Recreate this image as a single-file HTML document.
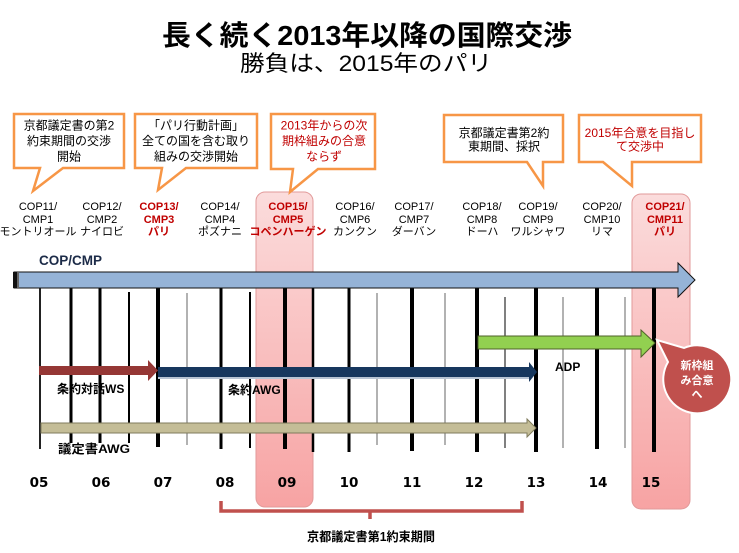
<!DOCTYPE html>
<html><head><meta charset="utf-8"><style>
html,body{margin:0;padding:0;background:#fff;}
svg{display:block;}
text{font-family:"Liberation Sans","Noto Sans CJK JP",sans-serif;}
.cop{font-size:11px;text-anchor:middle;fill:#000;}
.copr{font-size:11px;text-anchor:middle;fill:#c00000;font-weight:bold;}
.cb{font-size:12px;text-anchor:middle;fill:#000;}
.cbr{font-size:12px;text-anchor:middle;fill:#c00000;}
.yr{font-family:"DejaVu Sans","Liberation Sans",sans-serif;font-weight:bold;font-size:13.5px;text-anchor:middle;fill:#000;}
.lb{font-size:12px;font-weight:bold;fill:#000;}
</style></head><body>
<svg width="739" height="553" viewBox="0 0 739 553" xmlns="http://www.w3.org/2000/svg">
<defs>
<linearGradient id="pk" x1="0" y1="0" x2="0" y2="1">
<stop offset="0" stop-color="#fbdcdc"/>
<stop offset="1" stop-color="#f7a3a3"/>
</linearGradient>
</defs>
<rect width="739" height="553" fill="#fff"/>

<!-- Title -->
<text x="162" y="45" font-size="28" font-weight="bold" textLength="410" lengthAdjust="spacingAndGlyphs" fill="#000">長く続く2013年以降の国際交渉</text>
<text x="240" y="71" font-size="22" textLength="252" lengthAdjust="spacingAndGlyphs" fill="#000">勝負は、2015年のパリ</text>

<!-- Pink highlight columns -->
<rect x="256" y="192" width="57" height="315" rx="9" fill="url(#pk)" stroke="#e29a9a" stroke-width="1"/>
<rect x="632" y="194" width="58" height="315" rx="9" fill="url(#pk)" stroke="#e29a9a" stroke-width="1"/>

<!-- Callouts -->
<g fill="#fff" stroke="#f79646" stroke-width="2.5" stroke-linejoin="miter">
<path d="M14,114 H124 V168 H63 L33,191 L40,168 H14 Z"/>
<path d="M135,114 H257 V168 H186 L158,190 L162,168 H135 Z"/>
<path d="M271,114 H375 V169 H318 L290,192 L293,169 H271 Z"/>
<path d="M444,115 H563 V162 H543 L543,186 L527,162 H444 Z"/>
<path d="M579,115 H701 V162 H632 L632,186 L603,162 H579 Z"/>
</g>
<text class="cb" x="69" y="129.5">京都議定書の第2</text>
<text class="cb" x="69" y="145">約束期間の交渉</text>
<text class="cb" x="69" y="160.5">開始</text>
<text class="cb" x="196" y="129.5">「パリ行動計画」</text>
<text class="cb" x="196" y="145">全ての国を含む取り</text>
<text class="cb" x="196" y="160.5">組みの交渉開始</text>
<text class="cbr" x="324" y="129.5">2013年からの次</text>
<text class="cbr" x="324" y="145">期枠組みの合意</text>
<text class="cbr" x="324" y="160.5">ならず</text>
<text class="cb" x="504" y="137">京都議定書第2約</text>
<text class="cb" x="504" y="150.5">東期間、採択</text>
<text class="cbr" x="640" y="137">2015年合意を目指し</text>
<text class="cbr" x="640" y="150.5">て交渉中</text>

<!-- COP labels -->
<text class="cop" x="38" y="210">COP11/</text><text class="cop" x="38" y="223">CMP1</text><text class="cop" x="38" y="235" font-size="10">モントリオール</text>
<text class="cop" x="102" y="210">COP12/</text><text class="cop" x="102" y="223">CMP2</text><text class="cop" x="102" y="235">ナイロビ</text>
<text class="copr" x="159" y="210">COP13/</text><text class="copr" x="159" y="223">CMP3</text><text class="copr" x="159" y="235">パリ</text>
<text class="cop" x="220" y="210">COP14/</text><text class="cop" x="220" y="223">CMP4</text><text class="cop" x="220" y="235">ポズナニ</text>
<text class="copr" x="288" y="210">COP15/</text><text class="copr" x="288" y="223">CMP5</text><text class="copr" x="288" y="235">コペンハーゲン</text>
<text class="cop" x="355" y="210">COP16/</text><text class="cop" x="355" y="223">CMP6</text><text class="cop" x="355" y="235">カンクン</text>
<text class="cop" x="414" y="210">COP17/</text><text class="cop" x="414" y="223">CMP7</text><text class="cop" x="414" y="235">ダーバン</text>
<text class="cop" x="482" y="210">COP18/</text><text class="cop" x="482" y="223">CMP8</text><text class="cop" x="482" y="235">ドーハ</text>
<text class="cop" x="538" y="210">COP19/</text><text class="cop" x="538" y="223">CMP9</text><text class="cop" x="538" y="235">ワルシャワ</text>
<text class="cop" x="602" y="210">COP20/</text><text class="cop" x="602" y="223">CMP10</text><text class="cop" x="602" y="235">リマ</text>
<text class="copr" x="665" y="210">COP21/</text><text class="copr" x="665" y="223">CMP11</text><text class="copr" x="665" y="235">パリ</text>

<text x="39" y="265" font-family="DejaVu Sans" font-size="13.5" font-weight="bold" fill="#1c2b48">COP/CMP</text>

<!-- Grid lines -->
<g stroke="#000">
<line x1="40" y1="288" x2="40" y2="449" stroke-width="2" stroke="#222"/>
<line x1="71" y1="288" x2="71" y2="443" stroke-width="3"/>
<line x1="100" y1="288" x2="100" y2="443" stroke-width="3"/>
<line x1="129" y1="292" x2="129" y2="443" stroke-width="2"/>
<line x1="158" y1="288" x2="158" y2="447" stroke-width="4"/>
<line x1="187" y1="293" x2="187" y2="445" stroke-width="1.5" stroke="#999"/>
<line x1="221" y1="288" x2="221" y2="449" stroke-width="3"/>
<line x1="250" y1="292" x2="250" y2="448" stroke-width="2"/>
<line x1="285" y1="288" x2="285" y2="449" stroke-width="4"/>
<line x1="313" y1="288" x2="313" y2="452" stroke-width="2.5"/>
<line x1="349" y1="288" x2="349" y2="452" stroke-width="3"/>
<line x1="377" y1="293" x2="377" y2="445" stroke-width="1.5" stroke="#999"/>
<line x1="412" y1="288" x2="412" y2="451" stroke-width="4"/>
<line x1="445" y1="293" x2="445" y2="445" stroke-width="1.5" stroke="#999"/>
<line x1="477" y1="288" x2="477" y2="452" stroke-width="4"/>
<line x1="505" y1="297" x2="505" y2="448" stroke-width="1"/>
<line x1="536" y1="288" x2="536" y2="452" stroke-width="4"/>
<line x1="563" y1="297" x2="563" y2="448" stroke-width="1.5" stroke="#999"/>
<line x1="597" y1="288" x2="597" y2="449" stroke-width="4"/>
<line x1="625" y1="297" x2="625" y2="448" stroke-width="1.5" stroke="#999"/>
<line x1="654" y1="288" x2="654" y2="452" stroke-width="4"/>
</g>

<!-- Blue COP/CMP arrow -->
<path d="M14,272 H678 V263 L695,280 L678,297 V288 H14 Z" fill="#95b3d7" stroke="#111" stroke-width="1"/>
<rect x="13" y="272" width="4" height="16" fill="#111"/>
<rect x="17" y="272" width="2" height="16" fill="#666"/>

<!-- Arrows -->
<path d="M478,336 H641 V330 L655,343 L641,357 V349 H478 Z" fill="#92d050" stroke="#4f6228" stroke-width="1"/>
<path d="M158,367 H529 V362 L537,372 L529,382 V377 H158 Z" fill="#17375e"/>
<rect x="158" y="377" width="371" height="2" fill="#b8c4d4"/>
<path d="M39,366 H148 V360 L158,370.5 L148,381 V375 H39 Z" fill="#953735"/>
<path d="M41,423 H527 V419 L536,428 L527,437 V433 H41 Z" fill="#c4bd97" stroke="#7f7b5c" stroke-width="1"/>

<!-- Arrow labels -->
<text class="lb" x="57" y="393">条約対話WS</text>
<text class="lb" x="228" y="394">条約AWG</text>
<text class="lb" x="555" y="371">ADP</text>
<text class="lb" x="58" y="453" textLength="72" lengthAdjust="spacingAndGlyphs">議定書AWG</text>

<!-- Red circle callout -->
<path d="M657,340 L668,362 A34,34 0 1 0 684,348 Z" fill="#c0504d" stroke="#fff" stroke-width="2"/>
<text x="697" y="369" font-size="11" font-weight="bold" fill="#fff" text-anchor="middle">新枠組</text>
<text x="697" y="384" font-size="11" font-weight="bold" fill="#fff" text-anchor="middle">み合意</text>
<text x="697" y="398" font-size="11" font-weight="bold" fill="#fff" text-anchor="middle">へ</text>

<!-- Year labels -->
<text class="yr" x="39" y="487">05</text>
<text class="yr" x="101" y="487">06</text>
<text class="yr" x="163" y="487">07</text>
<text class="yr" x="225" y="487">08</text>
<text class="yr" x="287" y="487">09</text>
<text class="yr" x="349" y="487">10</text>
<text class="yr" x="412" y="487">11</text>
<text class="yr" x="474" y="487">12</text>
<text class="yr" x="536" y="487">13</text>
<text class="yr" x="598" y="487">14</text>
<text class="yr" x="651" y="487">15</text>

<!-- Bracket -->
<path d="M221,501 V511 H522 V501 M370,511 V519" fill="none" stroke="#c0504d" stroke-width="3.5"/>
<text x="307" y="541" font-size="12.5" font-weight="bold" fill="#000" textLength="128" lengthAdjust="spacingAndGlyphs">京都議定書第1約束期間</text>
</svg>
</body></html>
